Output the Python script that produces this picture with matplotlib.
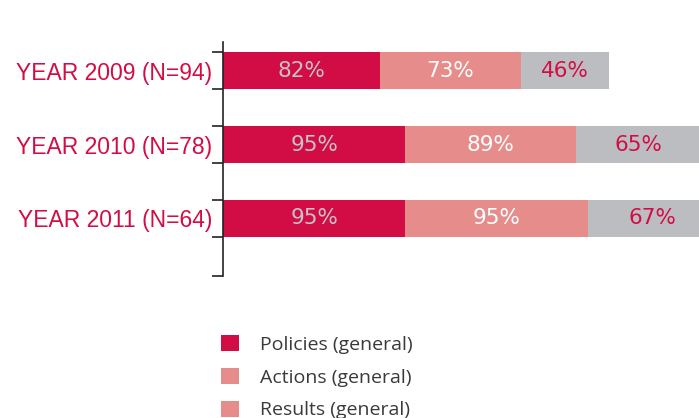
import matplotlib

matplotlib.use("Agg")

import matplotlib.pyplot as plt
from matplotlib.patches import Patch
import numpy as np

# data
categories = ["YEAR 2009 (N=94)", "YEAR 2010 (N=78)", "YEAR 2011 (N=64)"]
policies = [82, 95, 95]
actions = [73, 89, 95]
results = [46, 65, 67]
series_names = ["Policies (general)", "Actions (general)", "Results (general)"]

CRIMSON = "#D20D45"
SALMON = "#E68D8C"
GRAY = "#BCBDC1"
BAR_COLORS = [CRIMSON, SALMON, GRAY]
TEXT_COLORS = ["#C3C4C8", "white", CRIMSON]
LEGEND_COLORS = [CRIMSON, SALMON, SALMON]  # reference legend repeats the salmon swatch

plt.rcParams["font.family"] = ["Liberation Sans", "DejaVu Sans"]

fig = plt.figure(figsize=(6.99, 4.18), dpi=100)
ax = fig.add_axes([223 / 699, 1 - 276 / 418, 1 - 223 / 699, (276 - 42) / 418])

y = np.arange(len(categories))
left = np.zeros(len(categories))
for vals, color, tcolor in zip([policies, actions, results], BAR_COLORS, TEXT_COLORS):
    vals = np.asarray(vals, dtype=float)
    bars = ax.barh(y, vals, left=left, height=0.5, color=color, linewidth=0)
    for b, v in zip(bars, vals):
        ax.text(b.get_x() + b.get_width() / 2, b.get_y() + b.get_height() / 2, f"{int(v)}%",
                ha="center", va="center", color=tcolor, fontsize=15.5, family=["DejaVu Sans"])
    left += vals

ax.set_xlim(0, 248)
ax.set_ylim(2.78, -0.39)

ax.set_yticks(y)
ax.set_yticklabels(categories, color=CRIMSON, fontsize=16.5)
ax.tick_params(axis="y", which="major", length=0, pad=8)
edges = list(np.concatenate([[c - 0.25, c + 0.25] for c in y])) + [2.78]
ax.set_yticks(edges, minor=True)
ax.tick_params(axis="y", which="minor", length=8, width=1.2, color="#222222")
ax.set_xticks([])
for side in ["top", "right", "bottom"]:
    ax.spines[side].set_visible(False)
ax.spines["left"].set_linewidth(1.2)
ax.spines["left"].set_color("#222222")

handles = [Patch(facecolor=c, edgecolor="none") for c in LEGEND_COLORS]
fig.legend(handles, series_names, loc="upper left", bbox_to_anchor=(221 / 699, 1 - 335 / 418),
           frameon=False, labelcolor="#3A3A3A", handlelength=0.9, handleheight=0.9,
           handletextpad=1.1, labelspacing=0.72, borderpad=0, borderaxespad=0,
           prop={"family": ["Open Sans", "DejaVu Sans"], "size": 14})

fig.savefig("out.png", dpi=100)
